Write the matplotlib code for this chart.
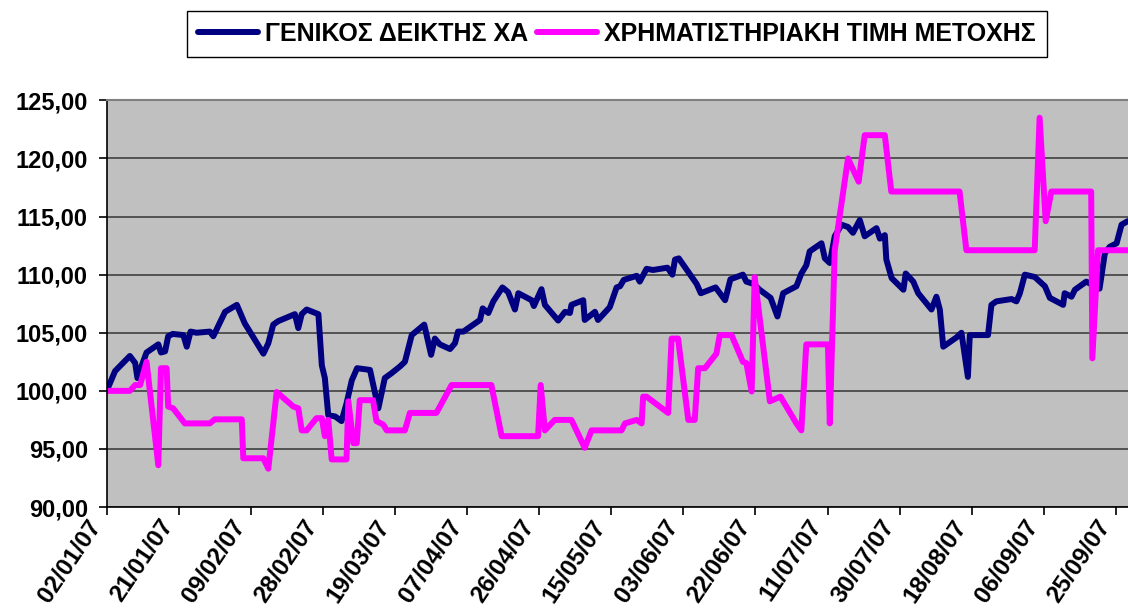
import numpy as np
import pandas as pd
import matplotlib
matplotlib.use("Agg")
import matplotlib.pyplot as plt
import matplotlib.dates as mdates
from matplotlib.ticker import FixedLocator, FuncFormatter
from matplotlib.transforms import ScaledTranslation

# Data (x as days after 02/01/07)

START_DATE = "2007-01-02"

index_days = [
    0, 2.2, 6.1, 7.5, 8.1, 9.6, 10.5, 13.6, 14.3, 15.4, 16.2, 17.4, 20.2, 21.1,
    22.1, 23.7, 27.2, 28.1, 31.2, 34.3, 36.4, 41.3, 42.6, 43.9, 45.2, 49.6,
    50.5, 51.4, 52.7, 55.8, 56.7, 57.5, 58.4, 60.2, 61.9, 63.2, 64.6, 66.0,
    69.4, 71.6, 73.3, 75.0, 77.3, 78.6, 80.4, 83.7, 85.5, 86.5, 87.8, 90.5,
    91.8, 92.6, 94.0, 98.4, 99.1, 100.6, 101.9, 104.3, 105.8, 107.6, 108.5,
    112.0, 112.6, 114.6, 115.5, 119.0, 120.8, 122.1, 122.5, 125.6, 126.0,
    128.7, 129.5, 132.6, 134.4, 135.3, 136.3, 139.7, 140.5, 142.3, 144.0,
    147.8, 149.1, 149.8, 150.8, 155.5, 156.6, 160.5, 163.0, 164.4, 167.7,
    168.6, 170.5, 172.1, 175.0, 176.8, 178.3, 181.8, 183.1, 184.4, 185.3,
    188.4, 189.3, 190.6, 191.9, 193.7, 195.4, 196.7, 198.5, 199.8, 202.9,
    203.8, 205.1, 205.5, 206.9, 210.0, 210.6, 212.6, 213.9, 217.4, 218.7,
    219.6, 220.5, 224.0, 225.3, 227.0, 227.5, 232.3, 233.2, 234.5, 238.5,
    239.8, 240.7, 242.0, 244.6, 247.3, 248.6, 252.1, 252.5, 254.3, 255.2,
    258.2, 261.7, 263.1, 264.4, 266.2, 267.5, 269.1,
]
index_values = [
    100.0, 101.7, 103.0, 102.4, 101.1, 102.5, 103.3, 104.0, 103.3, 103.4,
    104.7, 104.9, 104.8, 103.8, 105.1, 105.0, 105.1, 104.7, 106.8, 107.4,
    105.8, 103.2, 104.1, 105.7, 106.0, 106.6, 105.4, 106.6, 107.0, 106.6,
    102.2, 101.1, 97.9, 97.8, 97.4, 98.9, 100.9, 101.95, 101.8, 98.5, 101.1,
    101.5, 102.1, 102.5, 104.8, 105.7, 103.1, 104.5, 104.0, 103.6, 104.1,
    105.1, 105.1, 106.1, 107.1, 106.7, 107.7, 108.9, 108.5, 107.0, 108.4,
    107.8, 107.3, 108.75, 107.4, 106.05, 106.8, 106.7, 107.4, 107.8, 106.1,
    106.8, 106.1, 107.2, 108.9, 109.0, 109.55, 109.9, 109.4, 110.5, 110.4,
    110.6, 110.0, 111.3, 111.4, 109.2, 108.4, 108.9, 107.8, 109.6, 110.0,
    109.4, 109.2, 108.7, 108.0, 106.4, 108.4, 109.0, 110.1, 110.8, 112.0,
    112.7, 111.4, 111.0, 113.3, 114.3, 114.1, 113.6, 114.7, 113.3, 114.0,
    113.1, 113.4, 111.3, 109.7, 108.7, 110.1, 109.4, 108.4, 107.0, 108.1,
    107.0, 103.8, 104.6, 105.0, 101.2, 104.8, 104.8, 107.4, 107.7, 107.9,
    107.7, 108.4, 110.0, 109.8, 109.0, 108.0, 107.4, 108.4, 108.1, 108.7,
    109.4, 108.8, 111.85, 112.4, 112.7, 114.3, 114.6,
]

price_days = [
    0, 6.1, 7.5, 8.8, 10.5, 13.6, 14.3, 15.8, 16.2, 17.5, 20.6, 27.2, 28.5,
    35.6, 36.0, 41.3, 42.6, 44.8, 49.2, 50.5, 51.4, 52.7, 55.3, 56.7, 57.5,
    58.4, 59.3, 63.2, 63.7, 65.0, 65.9, 66.7, 70.2, 71.1, 72.9, 73.8, 78.6,
    79.9, 86.9, 90.9, 101.4, 104.1, 113.7, 114.4, 115.5, 118.1, 122.5, 126.0,
    127.8, 135.7, 136.6, 139.7, 141.0, 141.4, 142.3, 148.0, 148.9, 150.6,
    153.3, 155.0, 155.9, 157.7, 160.7, 161.6, 164.7, 167.7, 168.6, 170.0,
    170.8, 174.8, 177.6, 181.8, 183.1, 184.4, 190.1, 190.6, 191.9, 195.4,
    198.2, 199.8, 205.1, 206.8, 224.8, 226.6, 244.6, 245.9, 247.5, 249.0,
    259.5, 259.8, 261.3, 269.1,
]
price_values = [
    100.0, 100.0, 100.5, 100.5, 102.5, 93.6, 101.95, 101.95, 98.65, 98.5,
    97.2, 97.2, 97.55, 97.55, 94.2, 94.2, 93.3, 99.9, 98.65, 98.5, 96.6, 96.6,
    97.65, 97.65, 96.1, 97.5, 94.1, 94.1, 99.1, 95.5, 95.5, 99.2, 99.2, 97.4,
    97.1, 96.6, 96.6, 98.1, 98.1, 100.5, 100.5, 96.1, 96.1, 100.5, 96.6, 97.5,
    97.5, 95.1, 96.6, 96.6, 97.2, 97.5, 97.2, 99.5, 99.5, 98.1, 104.5, 104.5,
    97.5, 97.5, 101.95, 101.95, 103.2, 104.8, 104.8, 102.5, 102.4, 99.95,
    109.8, 99.1, 99.5, 97.2, 96.6, 104.0, 104.0, 97.2, 112.1, 120.0, 118.0,
    122.0, 122.0, 117.15, 117.15, 112.1, 112.1, 123.5, 114.6, 117.15, 117.15,
    102.8, 112.1, 112.1,
]

index_label = "ΓΕΝΙΚΟΣ ΔΕΙΚΤΗΣ ΧΑ"
price_label = "ΧΡΗΜΑΤΙΣΤΗΡΙΑΚΗ ΤΙΜΗ ΜΕΤΟΧΗΣ"

tick_dates = pd.date_range(START_DATE, periods=15, freq="19D")
y_ticks = [90, 95, 100, 105, 110, 115, 120, 125]

# Plot

plt.rcParams["font.family"] = ["Liberation Sans", "DejaVu Sans"]
plt.rcParams["font.weight"] = "bold"

start = pd.Timestamp(START_DATE)
index_dates = start + pd.to_timedelta(index_days, unit="D")
price_dates = start + pd.to_timedelta(price_days, unit="D")

fig = plt.figure(figsize=(11.28, 6.08), dpi=100)
ax = fig.add_axes([0.0946, 0.166, 0.9054, 0.669])
ax.set_facecolor("#C0C0C0")

line_style = dict(linewidth=4.3, solid_joinstyle="round", solid_capstyle="round")
ax.plot(index_dates, index_values, color="#000080", label=index_label, **line_style)
ax.plot(price_dates, price_values, color="#FF00FF", label=price_label, **line_style)

ax.set_ylim(90, 125)
ax.set_xlim(start, start + pd.Timedelta(days=269.2))

ax.yaxis.set_major_locator(FixedLocator(y_ticks))
ax.yaxis.set_major_formatter(
    FuncFormatter(lambda v, _: f"{v:.2f}".replace(".", ","))
)
ax.xaxis.set_major_locator(FixedLocator(mdates.date2num(tick_dates)))
ax.xaxis.set_major_formatter(mdates.DateFormatter("%d/%m/%y"))

ax.grid(axis="y", color="#404040", linewidth=1.2)
ax.set_axisbelow(True)

ax.spines["right"].set_visible(False)
ax.spines["top"].set_color("#808080")
ax.spines["top"].set_linewidth(1.5)
ax.spines["left"].set_linewidth(1.2)
ax.spines["bottom"].set_linewidth(1.2)

ax.tick_params(axis="y", length=5.5, width=1.2, pad=8, labelsize=17)
ax.tick_params(axis="x", length=5.5, width=1.2, pad=5, labelsize=17.5)

shift = ScaledTranslation(-0.10, 0, fig.dpi_scale_trans)
for label in ax.get_xticklabels():
    label.set_rotation(56)
    label.set_ha("right")
    label.set_va("center")
    label.set_rotation_mode("anchor")
    label.set_transform(label.get_transform() + shift)

fig.legend(
    loc="upper center",
    bbox_to_anchor=(0.547, 0.982),
    ncol=2,
    frameon=True,
    fancybox=False,
    edgecolor="black",
    framealpha=1,
    fontsize=18,
    handlelength=2.4,
    handletextpad=0.28,
    columnspacing=0.36,
    borderpad=0.45,
    borderaxespad=0,
)

fig.savefig("out.png", dpi=100)
